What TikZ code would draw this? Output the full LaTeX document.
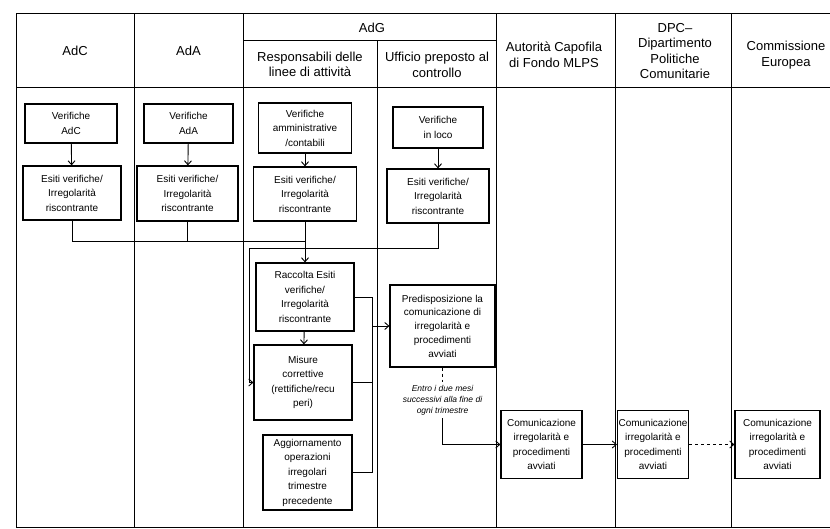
\documentclass[tikz,border=0pt]{standalone}
\usepackage{fontspec}
\setmainfont{Liberation Sans}
\usetikzlibrary{arrows.meta,positioning}
\tikzset{
  grid/.style={line width=1pt},
  head/.style={align=center,font=\fontsize{13}{15.5}\selectfont},
  sbox/.style={draw,line width=1.2pt,align=center,inner sep=0.5pt,
               font=\fontsize{10}{14.5}\selectfont},
  link/.style={line width=0.9pt},
  arr/.style={-{Straight Barb[length=4pt,width=7pt]},line width=0.9pt},
}

\begin{document}
\begin{tikzpicture}[x=1pt,y=-1pt]
  \useasboundingbox (0,0) rectangle (830,529);
  % table frame
  \draw[grid] (16,14) -- (830,14);
  \draw[grid] (243,41) -- (496,41);
  \draw[grid] (16,88) -- (830,88);
  \draw[grid] (16,527) -- (830,527);
  \foreach \x in {16,134,243,496,615,731}
    \draw[grid] (\x,14) -- (\x,527);
  \draw[grid] (377,41) -- (377,527);

  % column heads
  \node[head] (hAdC) at (75,51) {AdC};
  \node[head] (hAdA) at (188.5,51) {AdA};
  \node[head] (hAdG) at (372,28) {AdG};
  \node[head] (hResp) at (310,64.5) {Responsabili delle\\linee di attività};
  \node[head] (hUff) at (437,65) {Ufficio preposto al\\controllo};
  \node[head] (hMLPS) at (554,55) {Autorità Capofila\\di Fondo MLPS};
  \node[head] (hDPC) at (675,51) {DPC–\\Dipartimento\\Politiche\\Comunitarie};
  \node[head] (hCE) at (786,55) {Commissione\\Europea};

  % checks and their outcomes
  \node[sbox,minimum width=92pt,minimum height=39pt] (vAdC) at (71,123.5)
       {Verifiche\\AdC};
  \node[sbox,minimum width=98pt,minimum height=54pt] (eAdC) at (72,193)
       {Esiti verifiche/\\Irregolarità\\riscontrante};
  \node[sbox,minimum width=89pt,minimum height=39pt] (vAdA) at (188.5,123.5)
       {Verifiche\\AdA};
  \node[sbox,minimum width=101pt,minimum height=55pt] (eAdA) at (187.5,193.5)
       {Esiti verifiche/\\Irregolarità\\riscontrante};
  \node[sbox,minimum width=93pt,minimum height=50pt] (vAmm) at (305,128)
       {Verifiche\\amministrative\\/contabili};
  \node[sbox,minimum width=103pt,minimum height=54pt] (eResp) at (305,194)
       {Esiti verifiche/\\Irregolarità\\riscontrante};
  \node[sbox,minimum width=90pt,minimum height=41pt] (vLoco) at (438,127.5)
       {Verifiche\\in loco};
  \node[sbox,minimum width=102pt,minimum height=54pt] (eLoco) at (438,196)
       {Esiti verifiche/\\Irregolarità\\riscontrante};

  % follow-up by the managing authority
  \node[sbox,minimum width=98pt,minimum height=68pt] (raccolta) at (305,297)
       {Raccolta Esiti\\verifiche/\\Irregolarità\\riscontrante};
  \node[sbox,minimum width=98pt,minimum height=75pt] (misure) at (303,382.5)
       {Misure\\correttive\\(rettifiche/recu\\peri)};
  \node[sbox,minimum width=89pt,minimum height=75pt] (aggiorn) at (307.5,472.5)
       {Aggiornamento\\operazioni\\irregolari\\trimestre\\precedente};
  \node[sbox,minimum width=105pt,minimum height=82pt,
        font=\fontsize{10}{13.75}\selectfont] (predisp) at (442.5,326)
       {Predisposizione la\\comunicazione di\\irregolarità e\\procedimenti\\avviati};
  \node[align=center,inner sep=3pt,font=\fontsize{8.5}{11}\selectfont\itshape]
       (entro) at (442.5,400)
       {Entro i due mesi\\successivi alla fine di\\ogni trimestre};

  % communications
  \node[sbox,minimum width=81pt,minimum height=68pt] (com1) at (541.5,444.5)
       {Comunicazione\\irregolarità e\\procedimenti\\avviati};
  \node[sbox,minimum width=71pt,minimum height=68pt] (com2) at (653,444.5)
       {Comunicazione\\irregolarità e\\procedimenti\\avviati};
  \node[sbox,minimum width=85pt,minimum height=68pt] (com3) at (777.5,444.5)
       {Comunicazione\\irregolarità e\\procedimenti\\avviati};

  % connectors
  \coordinate (jRes) at (305,241);
  \coordinate (loop) at (249,248);
  \coordinate (bus) at (372,472.5);

  \draw[arr] (vAdC) -- (eAdC);
  \draw[arr] (vAdA) -- (eAdA);
  \draw[arr] (vAmm) -- (eResp);
  \draw[arr] (vLoco) -- (eLoco);

  \draw[link] (eAdC.south) |- (jRes);
  \draw[link] (eAdA.south) -- (eAdA.south |- jRes);
  \draw[arr] (eResp) -- (raccolta);
  \draw[arr] (eLoco.south) |- (loop) |- (misure.west);
  \draw[arr] (raccolta) -- (misure);

  \draw[link] (raccolta.east) -| (bus) -- (aggiorn.east);
  \draw[link] (misure.east) -- (misure.east -| bus);
  \draw[arr] (predisp.west -| bus) -- (predisp.west);

  \draw[link,dashed] (predisp.south) -- (entro.north);
  \draw[arr] (entro.south) |- (com1.west);
  \draw[arr] (com1) -- (com2);
  \draw[arr,dashed] (com2) -- (com3);
\end{tikzpicture}
\end{document}
